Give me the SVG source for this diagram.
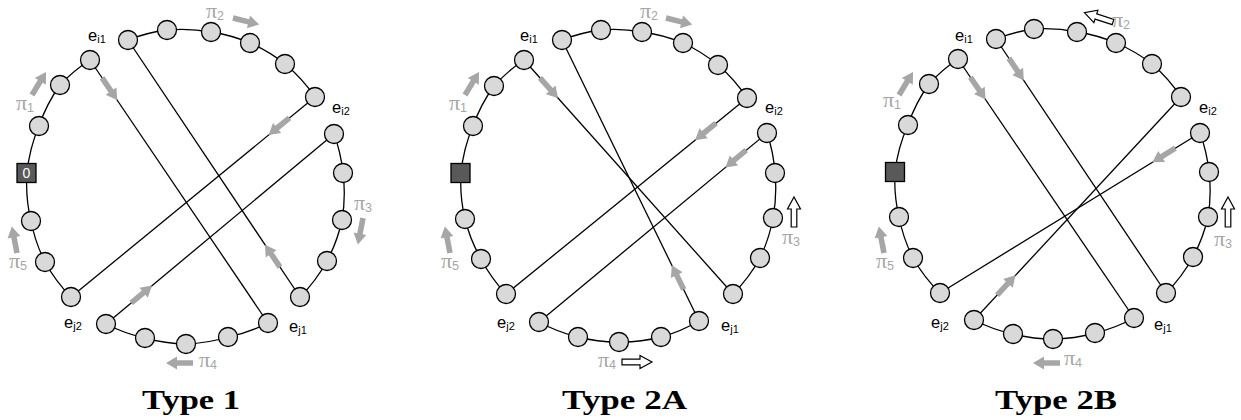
<svg xmlns="http://www.w3.org/2000/svg" xmlns:xlink="http://www.w3.org/1999/xlink" width="1241" height="420" viewBox="0 0 1241 420">
<style>
.arc{fill:none;stroke:#000;stroke-width:1.3}
.chord{stroke:#000;stroke-width:1.3}
.nd{fill:#d9d9d9;stroke:#000;stroke-width:1.3}
.sq{fill:#595959;stroke:#000;stroke-width:1.3}
.ga{fill:#a6a6a6}
.ha{fill:#fff;stroke:#000;stroke-width:1.2}
.lab{font-family:"Liberation Sans",Arial,sans-serif;font-size:16.5px;fill:#000}
.sub{font-size:11px}
.pi{font-family:"Liberation Serif","Times New Roman",serif;font-size:22px;fill:#a6a6a6}
.pis{font-family:"Liberation Sans",Arial,sans-serif;font-size:12.5px}
.title{font-family:"Liberation Serif","Times New Roman",serif;font-weight:bold;font-size:27px;fill:#000}
.zero{font-family:"Liberation Sans",Arial,sans-serif;font-size:14px;fill:#fff;text-anchor:middle}
</style>
<defs>
<path id="ga" d="M0,-2.8 H16 V-6.5 L27,0 L16,6.5 V2.8 H0 Z"/>
<path id="ha" d="M0,-2.8 H18 V-6.5 L30,0 L18,6.5 V2.8 H0 Z"/>
</defs>

<!-- ================= TYPE 1 ================= -->
<g id="type1">
<g id="t1-connectors">
<path class="arc" d="M128,40 A158,158 0 0 1 167,30 A158,158 0 0 1 211,32 A158,158 0 0 1 250,43 A158,158 0 0 1 285,64 A158,158 0 0 1 315,97"/>
<path class="arc" d="M334,134 A158,158 0 0 1 343,173 A158,158 0 0 1 342,220 A158,158 0 0 1 327,261 A158,158 0 0 1 300,297"/>
<path class="arc" d="M268,323 A158,158 0 0 1 228,337 A158,158 0 0 1 186,344 A158,158 0 0 1 145,338 A158,158 0 0 1 106,324"/>
<path class="arc" d="M71,297 A158,158 0 0 1 45,262 A158,158 0 0 1 31,221 A158,158 0 0 1 27,173 A158,158 0 0 1 39,126 A158,158 0 0 1 60,85 A158,158 0 0 1 90,60"/>
<line class="chord" x1="90" y1="60" x2="268" y2="323"/>
<line class="chord" x1="128" y1="40" x2="300" y2="297"/>
<line class="chord" x1="315" y1="97" x2="71" y2="297"/>
<line class="chord" x1="334" y1="134" x2="106" y2="324"/>
<use href="#ga" class="ga" transform="translate(102.1,77.9) rotate(55.9)"/>
<use href="#ga" class="ga" transform="translate(289.5,117.9) rotate(140.7)"/>
<use href="#ga" class="ga" transform="translate(280,267.1) rotate(-123.8)"/>
<use href="#ga" class="ga" transform="translate(131.3,302.9) rotate(-39.8)"/>
<use href="#ga" class="ga" transform="translate(32,95) rotate(-58.7)"/>
<use href="#ga" class="ga" transform="translate(233,18) rotate(14)"/>
<use href="#ga" class="ga" transform="translate(363,218) rotate(101)"/>
<use href="#ga" class="ga" transform="translate(193,363) rotate(180)"/>
<use href="#ga" class="ga" transform="translate(17,253) rotate(-101)"/>
</g>
<g id="t1-n1"><circle class="nd" cx="128" cy="40" r="9.5"/></g>
<g id="t1-n2"><circle class="nd" cx="167" cy="30" r="9.5"/></g>
<g id="t1-n3"><circle class="nd" cx="211" cy="32" r="9.5"/></g>
<g id="t1-n4"><circle class="nd" cx="250" cy="43" r="9.5"/></g>
<g id="t1-n5"><circle class="nd" cx="285" cy="64" r="9.5"/></g>
<g id="t1-n6"><circle class="nd" cx="315" cy="97" r="9.5"/></g>
<g id="t1-n7"><circle class="nd" cx="334" cy="134" r="9.5"/></g>
<g id="t1-n8"><circle class="nd" cx="343" cy="173" r="9.5"/></g>
<g id="t1-n9"><circle class="nd" cx="342" cy="220" r="9.5"/></g>
<g id="t1-n10"><circle class="nd" cx="327" cy="261" r="9.5"/></g>
<g id="t1-n11"><circle class="nd" cx="300" cy="297" r="9.5"/></g>
<g id="t1-n12"><circle class="nd" cx="268" cy="323" r="9.5"/></g>
<g id="t1-n13"><circle class="nd" cx="228" cy="337" r="9.5"/></g>
<g id="t1-n14"><circle class="nd" cx="186" cy="344" r="9.5"/></g>
<g id="t1-n15"><circle class="nd" cx="145" cy="338" r="9.5"/></g>
<g id="t1-n16"><circle class="nd" cx="106" cy="324" r="9.5"/></g>
<g id="t1-n17"><circle class="nd" cx="71" cy="297" r="9.5"/></g>
<g id="t1-n18"><circle class="nd" cx="45" cy="262" r="9.5"/></g>
<g id="t1-n19"><circle class="nd" cx="31" cy="221" r="9.5"/></g>
<g id="t1-n20"><rect class="sq" x="17" y="163.5" width="19" height="19"/><text class="zero" x="26.5" y="178">0</text></g>
<g id="t1-n21"><circle class="nd" cx="39" cy="126" r="9.5"/></g>
<g id="t1-n22"><circle class="nd" cx="60" cy="85" r="9.5"/></g>
<g id="t1-n23"><circle class="nd" cx="90" cy="60" r="9.5"/></g>
<g id="t1-labels">
<text class="lab" x="88" y="41">e<tspan class="sub" dy="2">i1</tspan></text>
<text class="lab" x="332" y="113">e<tspan class="sub" dy="2">i2</tspan></text>
<text class="lab" x="64" y="328">e<tspan class="sub" dy="2">j2</tspan></text>
<text class="lab" x="289" y="332">e<tspan class="sub" dy="2">j1</tspan></text>
<text class="pi" x="16" y="110">π<tspan class="pis" dy="2">1</tspan></text>
<text class="pi" x="206" y="18">π<tspan class="pis" dy="2">2</tspan></text>
<text class="pi" x="354" y="210">π<tspan class="pis" dy="2">3</tspan></text>
<text class="pi" x="199" y="367">π<tspan class="pis" dy="2">4</tspan></text>
<text class="pi" x="9" y="268">π<tspan class="pis" dy="2">5</tspan></text>
<text class="title" x="142" y="409" textLength="98" lengthAdjust="spacingAndGlyphs">Type 1</text>
</g>
</g>

<!-- ================= TYPE 2A ================= -->
<g id="type2a">
<g id="t2a-connectors">
<path class="arc" d="M562,40 A158,158 0 0 1 601,30 A158,158 0 0 1 642,32 A158,158 0 0 1 683,43 A158,158 0 0 1 718,65 A158,158 0 0 1 747,98"/>
<path class="arc" d="M767,133 A158,158 0 0 1 775,173 A158,158 0 0 1 773,218 A158,158 0 0 1 760,258 A158,158 0 0 1 733,294"/>
<path class="arc" d="M699,321 A158,158 0 0 1 661,337 A158,158 0 0 1 619,342 A158,158 0 0 1 578,337 A158,158 0 0 1 539,322"/>
<path class="arc" d="M506,294 A158,158 0 0 1 481,259 A158,158 0 0 1 465,219 A158,158 0 0 1 461,173 A158,158 0 0 1 473,126 A158,158 0 0 1 494,86 A158,158 0 0 1 524,60"/>
<line class="chord" x1="524" y1="60" x2="733" y2="294"/>
<line class="chord" x1="562" y1="40" x2="699" y2="321"/>
<line class="chord" x1="747" y1="98" x2="506" y2="294"/>
<line class="chord" x1="767" y1="133" x2="539" y2="322"/>
<use href="#ga" class="ga" transform="translate(540,77.9) rotate(48.2)"/>
<use href="#ga" class="ga" transform="translate(683.7,289.5) rotate(-116)"/>
<use href="#ga" class="ga" transform="translate(716,123.2) rotate(140.9)"/>
<use href="#ga" class="ga" transform="translate(746.2,150.2) rotate(140.3)"/>
<use href="#ga" class="ga" transform="translate(465,95) rotate(-58.7)"/>
<use href="#ga" class="ga" transform="translate(666,18) rotate(14)"/>
<use href="#ga" class="ga" transform="translate(450,253) rotate(-101)"/>
<use href="#ha" class="ha" transform="translate(794,227) rotate(-90)"/>
<use href="#ha" class="ha" transform="translate(622,362) rotate(0)"/>
</g>
<g id="t2a-n1"><circle class="nd" cx="562" cy="40" r="9.5"/></g>
<g id="t2a-n2"><circle class="nd" cx="601" cy="30" r="9.5"/></g>
<g id="t2a-n3"><circle class="nd" cx="642" cy="32" r="9.5"/></g>
<g id="t2a-n4"><circle class="nd" cx="683" cy="43" r="9.5"/></g>
<g id="t2a-n5"><circle class="nd" cx="718" cy="65" r="9.5"/></g>
<g id="t2a-n6"><circle class="nd" cx="747" cy="98" r="9.5"/></g>
<g id="t2a-n7"><circle class="nd" cx="767" cy="133" r="9.5"/></g>
<g id="t2a-n8"><circle class="nd" cx="775" cy="173" r="9.5"/></g>
<g id="t2a-n9"><circle class="nd" cx="773" cy="218" r="9.5"/></g>
<g id="t2a-n10"><circle class="nd" cx="760" cy="258" r="9.5"/></g>
<g id="t2a-n11"><circle class="nd" cx="733" cy="294" r="9.5"/></g>
<g id="t2a-n12"><circle class="nd" cx="699" cy="321" r="9.5"/></g>
<g id="t2a-n13"><circle class="nd" cx="661" cy="337" r="9.5"/></g>
<g id="t2a-n14"><circle class="nd" cx="619" cy="342" r="9.5"/></g>
<g id="t2a-n15"><circle class="nd" cx="578" cy="337" r="9.5"/></g>
<g id="t2a-n16"><circle class="nd" cx="539" cy="322" r="9.5"/></g>
<g id="t2a-n17"><circle class="nd" cx="506" cy="294" r="9.5"/></g>
<g id="t2a-n18"><circle class="nd" cx="481" cy="259" r="9.5"/></g>
<g id="t2a-n19"><circle class="nd" cx="465" cy="219" r="9.5"/></g>
<g id="t2a-n20"><rect class="sq" x="451" y="163.5" width="19" height="19"/></g>
<g id="t2a-n21"><circle class="nd" cx="473" cy="126" r="9.5"/></g>
<g id="t2a-n22"><circle class="nd" cx="494" cy="86" r="9.5"/></g>
<g id="t2a-n23"><circle class="nd" cx="524" cy="60" r="9.5"/></g>
<g id="t2a-labels">
<text class="lab" x="520" y="41">e<tspan class="sub" dy="2">i1</tspan></text>
<text class="lab" x="765" y="113">e<tspan class="sub" dy="2">i2</tspan></text>
<text class="lab" x="497" y="328">e<tspan class="sub" dy="2">j2</tspan></text>
<text class="lab" x="721" y="331">e<tspan class="sub" dy="2">j1</tspan></text>
<text class="pi" x="449" y="110">π<tspan class="pis" dy="2">1</tspan></text>
<text class="pi" x="640" y="18">π<tspan class="pis" dy="2">2</tspan></text>
<text class="pi" x="782" y="244">π<tspan class="pis" dy="2">3</tspan></text>
<text class="pi" x="598" y="367">π<tspan class="pis" dy="2">4</tspan></text>
<text class="pi" x="441" y="268">π<tspan class="pis" dy="2">5</tspan></text>
<text class="title" x="562" y="409" textLength="125" lengthAdjust="spacingAndGlyphs">Type 2A</text>
</g>
</g>

<!-- ================= TYPE 2B ================= -->
<g id="type2b">
<g id="t2b-connectors">
<path class="arc" d="M996,39 A158,158 0 0 1 1034,29 A158,158 0 0 1 1077,32 A158,158 0 0 1 1116,43 A158,158 0 0 1 1152,64 A158,158 0 0 1 1181,97"/>
<path class="arc" d="M1200,133 A158,158 0 0 1 1209,172 A158,158 0 0 1 1208,217 A158,158 0 0 1 1193,257 A158,158 0 0 1 1166,293"/>
<path class="arc" d="M1134,318 A158,158 0 0 1 1095,333 A158,158 0 0 1 1053,339 A158,158 0 0 1 1013,334 A158,158 0 0 1 974,320"/>
<path class="arc" d="M940,293 A158,158 0 0 1 913,258 A158,158 0 0 1 899,217 A158,158 0 0 1 895,172 A158,158 0 0 1 908,125 A158,158 0 0 1 929,84 A158,158 0 0 1 958,59"/>
<line class="chord" x1="958" y1="59" x2="1134" y2="318"/>
<line class="chord" x1="996" y1="39" x2="1166" y2="293"/>
<line class="chord" x1="1181" y1="97" x2="974" y2="320"/>
<line class="chord" x1="1200" y1="133" x2="940" y2="293"/>
<use href="#ga" class="ga" transform="translate(970.4,77.2) rotate(55.8)"/>
<use href="#ga" class="ga" transform="translate(1008.8,58.1) rotate(56.2)"/>
<use href="#ga" class="ga" transform="translate(997.1,295.1) rotate(-47.1)"/>
<use href="#ga" class="ga" transform="translate(1175.3,148.2) rotate(148.4)"/>
<use href="#ga" class="ga" transform="translate(899,95) rotate(-58.7)"/>
<use href="#ga" class="ga" transform="translate(1060,363) rotate(180)"/>
<use href="#ga" class="ga" transform="translate(884,253) rotate(-101)"/>
<use href="#ha" class="ha" transform="translate(1113,22) rotate(-162)"/>
<use href="#ha" class="ha" transform="translate(1228,227) rotate(-90)"/>
</g>
<g id="t2b-n1"><circle class="nd" cx="996" cy="39" r="9.5"/></g>
<g id="t2b-n2"><circle class="nd" cx="1034" cy="29" r="9.5"/></g>
<g id="t2b-n3"><circle class="nd" cx="1077" cy="32" r="9.5"/></g>
<g id="t2b-n4"><circle class="nd" cx="1116" cy="43" r="9.5"/></g>
<g id="t2b-n5"><circle class="nd" cx="1152" cy="64" r="9.5"/></g>
<g id="t2b-n6"><circle class="nd" cx="1181" cy="97" r="9.5"/></g>
<g id="t2b-n7"><circle class="nd" cx="1200" cy="133" r="9.5"/></g>
<g id="t2b-n8"><circle class="nd" cx="1209" cy="172" r="9.5"/></g>
<g id="t2b-n9"><circle class="nd" cx="1208" cy="217" r="9.5"/></g>
<g id="t2b-n10"><circle class="nd" cx="1193" cy="257" r="9.5"/></g>
<g id="t2b-n11"><circle class="nd" cx="1166" cy="293" r="9.5"/></g>
<g id="t2b-n12"><circle class="nd" cx="1134" cy="318" r="9.5"/></g>
<g id="t2b-n13"><circle class="nd" cx="1095" cy="333" r="9.5"/></g>
<g id="t2b-n14"><circle class="nd" cx="1053" cy="339" r="9.5"/></g>
<g id="t2b-n15"><circle class="nd" cx="1013" cy="334" r="9.5"/></g>
<g id="t2b-n16"><circle class="nd" cx="974" cy="320" r="9.5"/></g>
<g id="t2b-n17"><circle class="nd" cx="940" cy="293" r="9.5"/></g>
<g id="t2b-n18"><circle class="nd" cx="913" cy="258" r="9.5"/></g>
<g id="t2b-n19"><circle class="nd" cx="899" cy="217" r="9.5"/></g>
<g id="t2b-n20"><rect class="sq" x="885.5" y="162.5" width="19" height="19"/></g>
<g id="t2b-n21"><circle class="nd" cx="908" cy="125" r="9.5"/></g>
<g id="t2b-n22"><circle class="nd" cx="929" cy="84" r="9.5"/></g>
<g id="t2b-n23"><circle class="nd" cx="958" cy="59" r="9.5"/></g>
<g id="t2b-labels">
<text class="lab" x="955" y="41">e<tspan class="sub" dy="2">i1</tspan></text>
<text class="lab" x="1199" y="113">e<tspan class="sub" dy="2">i2</tspan></text>
<text class="lab" x="931" y="328">e<tspan class="sub" dy="2">j2</tspan></text>
<text class="lab" x="1154" y="330">e<tspan class="sub" dy="2">j1</tspan></text>
<text class="pi" x="883" y="107">π<tspan class="pis" dy="2">1</tspan></text>
<text class="pi" x="1112" y="27">π<tspan class="pis" dy="2">2</tspan></text>
<text class="pi" x="1214" y="246">π<tspan class="pis" dy="2">3</tspan></text>
<text class="pi" x="1064" y="365">π<tspan class="pis" dy="2">4</tspan></text>
<text class="pi" x="876" y="268">π<tspan class="pis" dy="2">5</tspan></text>
<text class="title" x="995" y="409" textLength="122" lengthAdjust="spacingAndGlyphs">Type 2B</text>
</g>
</g>
</svg>
